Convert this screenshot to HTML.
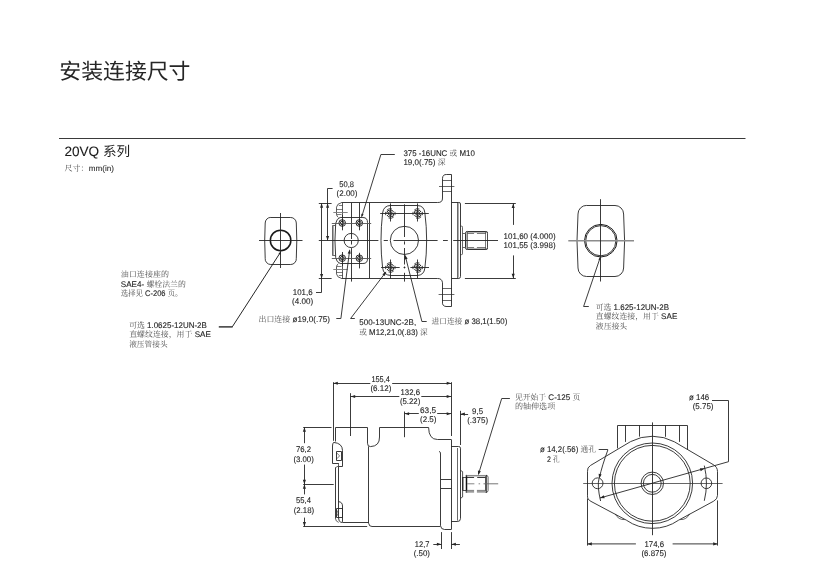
<!DOCTYPE html>
<html><head><meta charset="utf-8"><title>20VQ</title>
<style>
html,body{margin:0;padding:0;background:#fff;}
body{width:827px;height:573px;overflow:hidden;font-family:"Liberation Sans",sans-serif;}
svg{display:block;filter:grayscale(1);}
svg text{font-family:"Liberation Sans",sans-serif;text-rendering:geometricPrecision;stroke:#222;stroke-width:0.1px;}
svg text.cjs{font-family:"Liberation Sans","Noto Sans CJK SC",sans-serif;stroke:none;}
svg text.cjf{font-family:"Liberation Serif","Noto Serif CJK SC",serif;stroke:none;}
</style></head><body>
<svg width="827" height="573" viewBox="0 0 827 573" shape-rendering="geometricPrecision">
<rect width="827" height="573" fill="#fff"/>
<line x1="59" y1="138.5" x2="745.5" y2="138.5" stroke="#3a3a3a" stroke-width="1.0"/>
<path d="M270.80,217.50 L290.70,217.50 A5.6,5.6 0 0 1 296.30,223.00 Q297.30,240.40 296.30,258.40 A5.6,5.6 0 0 1 290.70,264.50 L270.80,264.50 A5.6,5.6 0 0 1 265.20,258.40 Q264.20,240.40 265.20,223.00 A5.6,5.6 0 0 1 270.80,217.40 Z" stroke="#262626" stroke-width="0.9" fill="none"/>
<circle cx="280.6" cy="240.4" r="10.25" stroke="#1a1a1a" stroke-width="1.5" fill="none"/>
<line x1="259" y1="240.5" x2="302.5" y2="240.5" stroke="#262626" stroke-width="0.9"/>
<line x1="280.5" y1="213" x2="280.5" y2="268" stroke="#262626" stroke-width="0.9"/>
<path d="M280.4,252.4 L232.3,326.8" stroke="#1a1a1a" stroke-width="0.95" fill="none"/>
<line x1="218.8" y1="326.9" x2="232.6" y2="326.9" stroke="#1a1a1a" stroke-width="1.3"/>
<path d="M281.20,251.20 L280.28,254.65 L278.43,253.46 Z" fill="#262626"/>
<path d="M586.60,205.50 L615.00,205.50 A8.6,8.6 0 0 1 623.60,214.00 Q625.60,240.70 623.60,268.00 A8.6,8.6 0 0 1 615.00,276.50 L586.60,276.50 A8.6,8.6 0 0 1 578.00,268.00 Q576.00,240.70 578.00,214.00 A8.6,8.6 0 0 1 586.60,205.40 Z" stroke="#262626" stroke-width="0.9" fill="none"/>
<circle cx="600.8" cy="240.7" r="16.3" stroke="#1a1a1a" stroke-width="1.0" fill="none"/>
<circle cx="600.8" cy="240.7" r="15.1" stroke="#222" stroke-width="0.9" fill="none"/>
<line x1="568.3" y1="240.7" x2="634" y2="240.7" stroke="#8c8c8c" stroke-width="1.4"/>
<line x1="600.5" y1="199.2" x2="600.5" y2="281.5" stroke="#262626" stroke-width="0.9"/>
<path d="M600.30,257.20 L583.60,306.50 L588.80,306.50" stroke="#262626" stroke-width="0.9" fill="none"/>
<path d="M600.60,256.40 L600.48,260.16 L598.40,259.45 Z" fill="#262626"/>
<path d="M341.30,202.50 L437.50,202.50 Q442.70,202.80 442.50,198.00 L442.50,178.30 Q442.70,174.30 446.70,174.50 L451.50,174.50 L451.50,306.50 L446.00,306.50 Q442.00,306.00 442.50,302.00 L442.50,282.80 Q442.00,278.30 437.50,278.50 L341.30,278.50" stroke="#262626" stroke-width="0.9" fill="none"/>
<line x1="442.7" y1="180.5" x2="451.7" y2="180.5" stroke="#262626" stroke-width="0.7"/>
<line x1="442.7" y1="191.5" x2="451.7" y2="191.5" stroke="#262626" stroke-width="0.7"/>
<line x1="442.0" y1="288.5" x2="451.7" y2="288.5" stroke="#262626" stroke-width="0.7"/>
<line x1="442.0" y1="300.5" x2="451.7" y2="300.5" stroke="#262626" stroke-width="0.7"/>
<line x1="439" y1="186.5" x2="454.4" y2="186.5" stroke="#262626" stroke-width="0.7"/>
<line x1="438.6" y1="294.5" x2="454.4" y2="294.5" stroke="#262626" stroke-width="0.7"/>
<path d="M451.70,202.50 L458.80,202.50 Q460.50,202.30 460.50,204.00 L460.50,276.60 Q460.50,278.20 458.80,278.50 L451.70,278.50" stroke="#262626" stroke-width="0.9" fill="none"/>
<line x1="457.5" y1="202.3" x2="457.5" y2="278.2" stroke="#262626" stroke-width="0.7"/>
<line x1="458.5" y1="203" x2="458.5" y2="277.6" stroke="#555" stroke-width="0.5"/>
<path d="M460.50,226.20 L461.60,226.20 Q462.80,226.20 462.50,227.60 L462.50,253.20 Q462.80,254.60 461.60,254.60 L460.50,254.60" stroke="#262626" stroke-width="0.7" fill="none"/>
<path d="M462.80,233.50 L465.40,233.50 M462.80,247.50 L465.40,247.50" stroke="#262626" stroke-width="0.7" fill="none"/>
<path d="M467.40,231.50 L485.90,231.50 Q487.90,231.40 487.50,233.40 L487.50,247.70 Q487.90,249.70 485.90,249.50 L467.40,249.50 Q465.40,249.70 465.50,247.70 L465.50,233.40 Q465.40,231.40 467.40,231.40 Z" stroke="#333" stroke-width="1.0" fill="none"/>
<path d="M467.60,232.50 L485.70,232.50 Q487.00,232.30 487.50,233.60 L487.50,247.50 Q487.00,248.80 485.70,248.50 L467.60,248.50 Q466.30,248.80 466.50,247.50 L466.50,233.60 Q466.30,232.30 467.60,232.30 Z" stroke="#666" stroke-width="0.5" fill="none"/>
<line x1="467.5" y1="231.6" x2="467.5" y2="249.5" stroke="#444" stroke-width="0.7"/>
<line x1="485.5" y1="231.6" x2="485.5" y2="249.5" stroke="#444" stroke-width="0.7"/>
<line x1="467.4" y1="233.5" x2="474.1" y2="233.5" stroke="#444" stroke-width="0.7"/>
<line x1="476.9" y1="233.5" x2="485.9" y2="233.5" stroke="#444" stroke-width="0.7"/>
<line x1="467.4" y1="247.5" x2="474.1" y2="247.5" stroke="#444" stroke-width="0.7"/>
<line x1="476.9" y1="247.5" x2="485.9" y2="247.5" stroke="#444" stroke-width="0.7"/>
<line x1="369.5" y1="202.8" x2="369.5" y2="278.3" stroke="#262626" stroke-width="0.9"/>
<line x1="351.5" y1="202.8" x2="351.5" y2="239.0" stroke="#262626" stroke-width="0.9"/>
<line x1="351.5" y1="240.9" x2="351.5" y2="244.5" stroke="#262626" stroke-width="0.9"/>
<line x1="351.5" y1="248.1" x2="351.5" y2="281.6" stroke="#262626" stroke-width="0.9"/>
<line x1="359.5" y1="202.8" x2="359.5" y2="230.3" stroke="#262626" stroke-width="0.9"/>
<line x1="359.5" y1="252.8" x2="359.5" y2="268.4" stroke="#262626" stroke-width="0.9"/>
<line x1="342.5" y1="215" x2="342.5" y2="230.3" stroke="#262626" stroke-width="0.9"/>
<line x1="342.5" y1="252.0" x2="342.5" y2="266" stroke="#262626" stroke-width="0.9"/>
<path d="M341.30,202.80 Q337.00,203.60 336.50,207.20 L336.50,214.40 Q336.80,216.40 338.40,217.40" stroke="#262626" stroke-width="0.75" fill="none"/>
<line x1="342.5" y1="202.8" x2="342.5" y2="217.4" stroke="#262626" stroke-width="0.75"/>
<line x1="338.8" y1="205.5" x2="342.5" y2="205.5" stroke="#262626" stroke-width="0.6"/>
<line x1="336.7" y1="209.5" x2="342.5" y2="209.5" stroke="#262626" stroke-width="0.6"/>
<line x1="336.7" y1="214.5" x2="341.5" y2="214.5" stroke="#262626" stroke-width="0.6"/>
<line x1="333.3" y1="212.5" x2="347.7" y2="212.5" stroke="#777" stroke-width="0.9"/>
<path d="M341.30,278.30 Q337.00,277.50 336.50,273.90 L336.50,266.70 Q336.80,264.70 338.40,263.70" stroke="#262626" stroke-width="0.75" fill="none"/>
<line x1="342.5" y1="278.3" x2="342.5" y2="263.7" stroke="#262626" stroke-width="0.75"/>
<line x1="338.8" y1="275.5" x2="342.5" y2="275.5" stroke="#262626" stroke-width="0.6"/>
<line x1="336.7" y1="272.5" x2="342.5" y2="272.5" stroke="#262626" stroke-width="0.6"/>
<line x1="336.7" y1="266.5" x2="341.5" y2="266.5" stroke="#262626" stroke-width="0.6"/>
<line x1="333.3" y1="269.5" x2="347.7" y2="269.5" stroke="#777" stroke-width="0.9"/>
<path d="M340.20,217.50 L362.90,217.50 Q367.70,217.60 367.50,222.60 L367.50,258.50 Q367.70,263.60 362.90,263.50 L340.20,263.50 Q336.60,262.40 335.70,257.60 Q334.20,240.40 335.70,223.40 Q336.60,218.60 340.20,217.40 Z" stroke="#262626" stroke-width="0.9" fill="none"/>
<path d="M335.30,225.50 L332.50,225.50 L332.50,255.50 L335.30,255.50" stroke="#262626" stroke-width="0.7" fill="none"/>
<line x1="333.5" y1="226" x2="333.5" y2="255" stroke="#555" stroke-width="0.5"/>
<circle cx="342.2" cy="223.0" r="3.3" stroke="#111" stroke-width="0.9" fill="none"/>
<circle cx="342.2" cy="223.0" r="1.8" stroke="#111" stroke-width="0.9" fill="none"/>
<circle cx="342.2" cy="258.2" r="3.3" stroke="#111" stroke-width="0.9" fill="none"/>
<circle cx="342.2" cy="258.2" r="1.8" stroke="#111" stroke-width="0.9" fill="none"/>
<circle cx="359.3" cy="223.0" r="3.3" stroke="#111" stroke-width="0.9" fill="none"/>
<circle cx="359.3" cy="223.0" r="1.8" stroke="#111" stroke-width="0.9" fill="none"/>
<circle cx="359.3" cy="258.2" r="3.3" stroke="#111" stroke-width="0.9" fill="none"/>
<circle cx="359.3" cy="258.2" r="1.8" stroke="#111" stroke-width="0.9" fill="none"/>
<line x1="331.8" y1="223.5" x2="371.2" y2="223.5" stroke="#555" stroke-width="0.9"/>
<line x1="331.8" y1="258.5" x2="371.2" y2="258.5" stroke="#555" stroke-width="0.9"/>
<circle cx="351.2" cy="240.5" r="7.1" stroke="#262626" stroke-width="0.9" fill="none"/>
<path d="M391.00,205.50 L417.20,205.50 Q424.20,205.60 424.90,213.00 Q428.40,240.40 424.90,267.80 Q424.20,275.20 417.20,275.50 L391.00,275.50 Q383.40,275.20 382.60,267.80 Q379.40,240.40 382.60,213.00 Q383.40,205.60 391.00,205.40 Z" stroke="#262626" stroke-width="0.9" fill="none"/>
<circle cx="390.3" cy="213.5" r="1.9" stroke="#111" stroke-width="0.95" fill="none"/>
<circle cx="390.3" cy="213.5" r="3.6" stroke="#111" stroke-width="0.9" fill="none" stroke-dasharray="9.5 1.8"/>
<path d="M386.84,210.04 A4.9,4.9 0 0 1 392.00,208.90 M393.76,216.96 A4.9,4.9 0 0 1 388.60,218.10 M394.90,211.80 A4.9,4.9 0 0 1 394.90,215.20 M385.70,215.20 A4.9,4.9 0 0 1 385.70,211.80" stroke="#222" stroke-width="0.75" fill="none"/>
<line x1="390.5" y1="203.4" x2="390.5" y2="221.5" stroke="#262626" stroke-width="0.9"/>
<circle cx="390.3" cy="267.5" r="1.9" stroke="#111" stroke-width="0.95" fill="none"/>
<circle cx="390.3" cy="267.5" r="3.6" stroke="#111" stroke-width="0.9" fill="none" stroke-dasharray="9.5 1.8"/>
<path d="M386.84,264.04 A4.9,4.9 0 0 1 392.00,262.90 M393.76,270.96 A4.9,4.9 0 0 1 388.60,272.10 M394.90,265.80 A4.9,4.9 0 0 1 394.90,269.20 M385.70,269.20 A4.9,4.9 0 0 1 385.70,265.80" stroke="#222" stroke-width="0.75" fill="none"/>
<line x1="390.5" y1="259.5" x2="390.5" y2="278.4" stroke="#262626" stroke-width="0.9"/>
<circle cx="417.7" cy="213.5" r="1.9" stroke="#111" stroke-width="0.95" fill="none"/>
<circle cx="417.7" cy="213.5" r="3.6" stroke="#111" stroke-width="0.9" fill="none" stroke-dasharray="9.5 1.8"/>
<path d="M414.24,210.04 A4.9,4.9 0 0 1 419.40,208.90 M421.16,216.96 A4.9,4.9 0 0 1 416.00,218.10 M422.30,211.80 A4.9,4.9 0 0 1 422.30,215.20 M413.10,215.20 A4.9,4.9 0 0 1 413.10,211.80" stroke="#222" stroke-width="0.75" fill="none"/>
<line x1="417.5" y1="203.4" x2="417.5" y2="221.5" stroke="#262626" stroke-width="0.9"/>
<circle cx="417.7" cy="267.5" r="1.9" stroke="#111" stroke-width="0.95" fill="none"/>
<circle cx="417.7" cy="267.5" r="3.6" stroke="#111" stroke-width="0.9" fill="none" stroke-dasharray="9.5 1.8"/>
<path d="M414.24,264.04 A4.9,4.9 0 0 1 419.40,262.90 M421.16,270.96 A4.9,4.9 0 0 1 416.00,272.10 M422.30,265.80 A4.9,4.9 0 0 1 422.30,269.20 M413.10,269.20 A4.9,4.9 0 0 1 413.10,265.80" stroke="#222" stroke-width="0.75" fill="none"/>
<line x1="417.5" y1="259.5" x2="417.5" y2="278.4" stroke="#262626" stroke-width="0.9"/>
<line x1="380.2" y1="213.5" x2="428.8" y2="213.5" stroke="#262626" stroke-width="0.9"/>
<line x1="381.1" y1="267.5" x2="399.7" y2="267.5" stroke="#262626" stroke-width="0.9"/>
<line x1="403.6" y1="267.5" x2="405.4" y2="267.5" stroke="#262626" stroke-width="0.9"/>
<line x1="410.4" y1="267.5" x2="429" y2="267.5" stroke="#262626" stroke-width="0.9"/>
<circle cx="404.4" cy="240.4" r="14.1" stroke="#262626" stroke-width="0.9" fill="none"/>
<line x1="404.5" y1="204.3" x2="404.5" y2="237" stroke="#262626" stroke-width="0.9"/>
<line x1="404.5" y1="241.4" x2="404.5" y2="244.5" stroke="#262626" stroke-width="0.9"/>
<line x1="404.5" y1="248" x2="404.5" y2="264.5" stroke="#262626" stroke-width="0.9"/>
<line x1="404.5" y1="266.5" x2="404.5" y2="268.4" stroke="#262626" stroke-width="0.9"/>
<line x1="404.5" y1="272.8" x2="404.5" y2="281.6" stroke="#262626" stroke-width="0.9"/>
<line x1="318.8" y1="240.5" x2="378.4" y2="240.5" stroke="#262626" stroke-width="0.9"/>
<line x1="383.7" y1="240.5" x2="387.9" y2="240.5" stroke="#262626" stroke-width="0.9"/>
<line x1="393.5" y1="240.5" x2="437.6" y2="240.5" stroke="#262626" stroke-width="0.9"/>
<line x1="443" y1="240.5" x2="447.8" y2="240.5" stroke="#262626" stroke-width="0.9"/>
<line x1="453.2" y1="240.5" x2="498" y2="240.5" stroke="#262626" stroke-width="0.9"/>
<line x1="318.8" y1="203.5" x2="331.6" y2="203.5" stroke="#262626" stroke-width="0.9"/>
<line x1="318.8" y1="278.5" x2="331.6" y2="278.5" stroke="#262626" stroke-width="0.9"/>
<path d="M321.50,203.30 L321.50,292.50 L316.00,292.50" stroke="#262626" stroke-width="0.9" fill="none"/>
<path d="M321.60,203.30 L323.15,207.80 L320.05,207.80 Z" fill="#262626"/>
<path d="M321.60,278.40 L320.05,273.90 L323.15,273.90 Z" fill="#262626"/>
<path d="M332.60,188.50 L327.50,188.50 L327.50,240.40" stroke="#262626" stroke-width="0.9" fill="none"/>
<path d="M327.60,203.30 L329.15,207.80 L326.05,207.80 Z" fill="#262626"/>
<path d="M327.60,240.40 L326.05,235.90 L329.15,235.90 Z" fill="#262626"/>
<line x1="464.9" y1="203.5" x2="515.8" y2="203.5" stroke="#262626" stroke-width="0.9"/>
<line x1="464.9" y1="278.5" x2="515.8" y2="278.5" stroke="#262626" stroke-width="0.9"/>
<line x1="513.5" y1="203.4" x2="513.5" y2="224.9" stroke="#262626" stroke-width="0.9"/>
<line x1="513.5" y1="255.4" x2="513.5" y2="278.3" stroke="#262626" stroke-width="0.9"/>
<path d="M513.20,203.40 L514.75,207.90 L511.65,207.90 Z" fill="#262626"/>
<path d="M513.20,278.30 L511.65,273.80 L514.75,273.80 Z" fill="#262626"/>
<path d="M394.80,154.50 L380.90,154.50 L361.80,216.40" stroke="#262626" stroke-width="0.9" fill="none"/>
<path d="M361.40,217.60 L361.41,213.63 L363.61,214.30 Z" fill="#262626"/>
<path d="M349.60,250.60 L340.90,318.50 L336.30,318.50" stroke="#262626" stroke-width="0.9" fill="none"/>
<path d="M349.80,249.20 L350.76,253.86 L347.69,253.47 Z" fill="#262626"/>
<line x1="336.5" y1="318.5" x2="341" y2="318.5" stroke="#262626" stroke-width="0.0"/>
<path d="M385.50,272.60 L350.60,318.50 L354.80,318.50" stroke="#262626" stroke-width="0.9" fill="none"/>
<path d="M386.30,271.50 L384.81,276.02 L382.35,274.15 Z" fill="#262626"/>
<path d="M405.30,256.00 L421.90,321.50 L426.70,321.50" stroke="#262626" stroke-width="0.9" fill="none"/>
<path d="M405.00,254.80 L407.61,258.78 L404.61,259.54 Z" fill="#262626"/>
<path d="M335.50,441.50 L335.50,427.50 L367.50,427.50 L367.50,443.20 Q367.40,446.60 370.50,446.60 Q379.70,446.20 379.50,437.00 L379.50,427.50 L428.60,427.50 Q428.80,439.50 437.50,439.50 L451.20,439.50" stroke="#262626" stroke-width="0.9" fill="none"/>
<line x1="368.5" y1="446.4" x2="368.5" y2="523.5" stroke="#262626" stroke-width="0.9"/>
<path d="M368.80,523.40 Q368.80,526.50 372.00,526.50 L440.20,526.50" stroke="#262626" stroke-width="0.9" fill="none"/>
<path d="M338.70,518.20 Q338.70,522.50 342.50,522.50 L368.60,522.50" stroke="#262626" stroke-width="0.9" fill="none"/>
<line x1="335.5" y1="467.5" x2="335.5" y2="518.5" stroke="#262626" stroke-width="0.9"/>
<line x1="338.5" y1="466.2" x2="338.5" y2="518.5" stroke="#262626" stroke-width="0.9"/>
<path d="M335.40,518.30 Q335.60,521.60 338.70,522.40" stroke="#262626" stroke-width="0.7" fill="none"/>
<path d="M335.40,467.60 L338.50,466.00 L338.50,463.30" stroke="#262626" stroke-width="0.7" fill="none"/>
<path d="M333.60,442.40 Q342.40,443.20 342.50,450.50 L342.50,466.50 L338.60,466.50" stroke="#262626" stroke-width="0.9" fill="none"/>
<path d="M333.60,442.40 Q332.50,443.60 332.50,446.00 L332.50,463.50 L338.70,463.50" stroke="#262626" stroke-width="0.9" fill="none"/>
<path d="M336.50,451.50 L341.50,451.50 L341.50,460.50 L336.50,460.50 Z" stroke="#262626" stroke-width="0.9" fill="none"/>
<path d="M336.80,453.00 L339.60,455.90 L336.80,458.80" stroke="#262626" stroke-width="0.6" fill="none"/>
<path d="M338.40,501.60 Q342.50,502.00 342.50,506.00 L342.50,521.90" stroke="#262626" stroke-width="0.9" fill="none"/>
<path d="M336.50,508.50 L342.50,508.50 L342.50,517.50 L336.50,517.50 Z" stroke="#262626" stroke-width="0.9" fill="none"/>
<path d="M336.80,510.20 Q339.60,513.20 336.80,516.20" stroke="#262626" stroke-width="0.6" fill="none"/>
<line x1="451.5" y1="439.5" x2="451.5" y2="529.5" stroke="#262626" stroke-width="0.9"/>
<path d="M451.30,446.50 L458.50,446.50 Q460.30,446.30 460.50,448.20 L460.50,518.60 Q460.30,521.90 457.10,521.50 L451.30,521.50" stroke="#262626" stroke-width="0.9" fill="none"/>
<line x1="457.5" y1="448" x2="457.5" y2="520.6" stroke="#262626" stroke-width="0.7"/>
<path d="M439.00,451.40 Q440.90,451.80 440.50,454.00 L440.50,525.80 Q441.00,529.50 444.50,529.50 L451.30,529.50" stroke="#262626" stroke-width="0.9" fill="none"/>
<line x1="440.9" y1="479.5" x2="451.3" y2="479.5" stroke="#262626" stroke-width="0.9"/>
<line x1="440.9" y1="488.5" x2="451.3" y2="488.5" stroke="#262626" stroke-width="0.9"/>
<path d="M460.5,470.4 L462.6,471.6 V497.0 L460.5,498.3" stroke="#262626" stroke-width="0.8" fill="none"/>
<line x1="462.8" y1="477.0" x2="462.8" y2="490.6" stroke="#222" stroke-width="1.2"/>
<line x1="462.8" y1="477.5" x2="466.4" y2="477.5" stroke="#262626" stroke-width="0.8"/>
<line x1="462.8" y1="490.5" x2="466.4" y2="490.5" stroke="#262626" stroke-width="0.8"/>
<line x1="466.5" y1="474.9" x2="466.5" y2="492.7" stroke="#111" stroke-width="1.5"/>
<line x1="486.0" y1="474.9" x2="486.0" y2="492.7" stroke="#111" stroke-width="1.4"/>
<line x1="466.5" y1="475.7" x2="486.0" y2="475.7" stroke="#8a8a8a" stroke-width="1.5"/>
<line x1="466.5" y1="477.5" x2="474.1" y2="477.5" stroke="#222" stroke-width="0.9"/>
<line x1="477.2" y1="477.5" x2="485.5" y2="477.5" stroke="#222" stroke-width="0.9"/>
<line x1="466.5" y1="491.7" x2="474.1" y2="491.7" stroke="#9a9a9a" stroke-width="2.0"/>
<line x1="476.9" y1="491.7" x2="486.0" y2="491.7" stroke="#9a9a9a" stroke-width="2.0"/>
<line x1="466.5" y1="490.4" x2="474.1" y2="490.4" stroke="#555" stroke-width="0.7"/>
<line x1="476.9" y1="490.4" x2="486.0" y2="490.4" stroke="#555" stroke-width="0.7"/>
<path d="M486,475.2 Q488.1,475.4 488.1,477.2 V490.4 Q488.1,492.2 486,492.5" stroke="#262626" stroke-width="0.7" fill="none"/>
<line x1="467.1" y1="483.8" x2="474.4" y2="483.8" stroke="#777" stroke-width="0.9"/>
<line x1="478.6" y1="483.8" x2="480.1" y2="483.8" stroke="#777" stroke-width="0.9"/>
<line x1="483.5" y1="483.8" x2="498.2" y2="483.8" stroke="#666" stroke-width="0.9"/>
<line x1="333.5" y1="382.2" x2="333.5" y2="440.8" stroke="#262626" stroke-width="0.9"/>
<line x1="451.5" y1="382.2" x2="451.5" y2="436" stroke="#262626" stroke-width="0.9"/>
<line x1="333.3" y1="383.5" x2="370.3" y2="383.5" stroke="#262626" stroke-width="0.9"/>
<path d="M333.30,383.20 L337.80,381.65 L337.80,384.75 Z" fill="#262626"/>
<line x1="392.2" y1="383.5" x2="451.2" y2="383.5" stroke="#262626" stroke-width="0.9"/>
<path d="M451.20,383.20 L446.70,384.75 L446.70,381.65 Z" fill="#262626"/>
<line x1="350.5" y1="393.2" x2="350.5" y2="436" stroke="#262626" stroke-width="0.9"/>
<line x1="350.7" y1="396.5" x2="399.3" y2="396.5" stroke="#262626" stroke-width="0.9"/>
<path d="M350.70,396.50 L355.20,394.95 L355.20,398.05 Z" fill="#262626"/>
<line x1="421.3" y1="396.5" x2="451.2" y2="396.5" stroke="#262626" stroke-width="0.9"/>
<path d="M451.20,396.50 L446.70,398.05 L446.70,394.95 Z" fill="#262626"/>
<line x1="404.5" y1="411.5" x2="404.5" y2="437.2" stroke="#262626" stroke-width="0.9"/>
<line x1="404.6" y1="413.5" x2="418.8" y2="413.5" stroke="#262626" stroke-width="0.9"/>
<path d="M404.60,413.70 L409.10,412.15 L409.10,415.25 Z" fill="#262626"/>
<line x1="437.2" y1="413.5" x2="451.2" y2="413.5" stroke="#262626" stroke-width="0.9"/>
<path d="M451.20,413.70 L446.70,415.25 L446.70,412.15 Z" fill="#262626"/>
<line x1="460.5" y1="410.8" x2="460.5" y2="445" stroke="#262626" stroke-width="0.9"/>
<line x1="460.4" y1="414.5" x2="468.1" y2="414.5" stroke="#262626" stroke-width="0.9"/>
<path d="M460.40,414.10 L464.90,412.55 L464.90,415.65 Z" fill="#262626"/>
<line x1="303.2" y1="427.5" x2="331.5" y2="427.5" stroke="#262626" stroke-width="0.9"/>
<line x1="303.2" y1="484.5" x2="333.7" y2="484.5" stroke="#262626" stroke-width="0.9"/>
<line x1="303.2" y1="526.5" x2="367.2" y2="526.5" stroke="#262626" stroke-width="0.9"/>
<line x1="304.5" y1="427.2" x2="304.5" y2="443.2" stroke="#262626" stroke-width="0.9"/>
<path d="M304.40,427.20 L305.95,431.70 L302.85,431.70 Z" fill="#262626"/>
<line x1="304.5" y1="464.6" x2="304.5" y2="484.3" stroke="#262626" stroke-width="0.9"/>
<path d="M304.40,484.30 L302.85,479.80 L305.95,479.80 Z" fill="#262626"/>
<line x1="304.5" y1="484.3" x2="304.5" y2="494.4" stroke="#262626" stroke-width="0.9"/>
<path d="M304.40,484.30 L305.95,488.80 L302.85,488.80 Z" fill="#262626"/>
<line x1="304.5" y1="517.6" x2="304.5" y2="526.5" stroke="#262626" stroke-width="0.9"/>
<path d="M304.40,526.50 L302.85,522.00 L305.95,522.00 Z" fill="#262626"/>
<line x1="441.5" y1="532.1" x2="441.5" y2="549" stroke="#262626" stroke-width="0.9"/>
<line x1="451.5" y1="532.1" x2="451.5" y2="549" stroke="#262626" stroke-width="0.9"/>
<line x1="433.3" y1="544.5" x2="441.4" y2="544.5" stroke="#262626" stroke-width="0.9"/>
<path d="M441.40,544.20 L436.90,545.75 L436.90,542.65 Z" fill="#262626"/>
<line x1="451.4" y1="544.5" x2="459.9" y2="544.5" stroke="#262626" stroke-width="0.9"/>
<path d="M451.40,544.20 L455.90,542.65 L455.90,545.75 Z" fill="#262626"/>
<path d="M509.90,398.50 L501.70,398.50 L478.60,473.80" stroke="#262626" stroke-width="0.9" fill="none"/>
<path d="M478.10,475.20 L477.94,470.44 L480.90,471.35 Z" fill="#262626"/>
<line x1="583.2" y1="483.5" x2="722.6" y2="483.5" stroke="#555" stroke-width="0.9"/>
<line x1="652.5" y1="422.4" x2="652.5" y2="535.2" stroke="#262626" stroke-width="0.9"/>
<path d="M617.50,448.40 L617.50,425.50 L687.50,425.50 L687.50,449.60" stroke="#262626" stroke-width="0.9" fill="none"/>
<line x1="625.5" y1="425.4" x2="625.5" y2="441.9" stroke="#262626" stroke-width="0.9"/>
<line x1="639.5" y1="425.4" x2="639.5" y2="436.6" stroke="#262626" stroke-width="0.9"/>
<line x1="665.5" y1="425.4" x2="665.5" y2="436.8" stroke="#262626" stroke-width="0.9"/>
<line x1="679.5" y1="425.4" x2="679.5" y2="441.9" stroke="#262626" stroke-width="0.9"/>
<path d="M630.60,441.60 A46.8,46.8 0 0 1 674.40,441.80 L713.20,464.60 Q717.50,467.00 717.50,471.50 L717.50,495.40 Q717.50,499.20 713.60,501.20 L678.60,520.20 A46,46 0 0 1 626.40,520.20 L591.00,501.40 Q587.00,499.40 587.50,495.20 L587.50,471.40 Q587.00,467.40 590.60,465.40 Z" stroke="#262626" stroke-width="0.9" fill="none"/>
<path d="M615.20,513.90 Q618.40,520.00 624.60,519.60" stroke="#262626" stroke-width="0.7" fill="none"/>
<path d="M689.70,513.90 Q686.40,520.00 680.20,519.60" stroke="#262626" stroke-width="0.7" fill="none"/>
<circle cx="652.3" cy="483.3" r="40.3" stroke="#262626" stroke-width="0.9" fill="none"/>
<circle cx="652.3" cy="483.3" r="37.9" stroke="#262626" stroke-width="0.9" fill="none"/>
<circle cx="652.3" cy="483.3" r="11.2" stroke="#262626" stroke-width="0.9" fill="none"/>
<circle cx="652.3" cy="483.3" r="8.9" stroke="#262626" stroke-width="0.9" fill="none"/>
<circle cx="597.6" cy="483.3" r="5.4" stroke="#262626" stroke-width="0.9" fill="none"/>
<circle cx="706.4" cy="483.3" r="5.3" stroke="#262626" stroke-width="0.9" fill="none"/>
<path d="M607.90,449.50 L598.70,449.50" stroke="#262626" stroke-width="0.9" fill="none"/>
<path d="M607.90,449.80 Q602.00,466.00 599.40,477.60" stroke="#262626" stroke-width="0.9" fill="none"/>
<path d="M599.10,478.60 L598.64,473.86 L601.66,474.59 Z" fill="#262626"/>
<path d="M599.00,478.60 Q597.00,486.00 600.60,501.00" stroke="#262626" stroke-width="0.9" fill="none"/>
<path d="M704.30,465.60 Q708.60,483.30 704.30,500.80" stroke="#262626" stroke-width="0.9" fill="none"/>
<path d="M712.00,400.50 L728.50,400.50 L728.50,461.70 L599.90,498.00" stroke="#262626" stroke-width="0.9" fill="none"/>
<path d="M599.90,498.00 L603.81,495.29 L604.65,498.27 Z" fill="#262626"/>
<path d="M704.60,468.50 L700.69,471.21 L699.85,468.23 Z" fill="#262626"/>
<line x1="587.5" y1="498.5" x2="587.5" y2="545.6" stroke="#262626" stroke-width="0.9"/>
<line x1="717.5" y1="500.4" x2="717.5" y2="545.6" stroke="#262626" stroke-width="0.9"/>
<line x1="587.1" y1="543.9" x2="635.9" y2="543.9" stroke="#3a3a3a" stroke-width="1.0"/>
<path d="M587.30,543.90 L591.80,542.35 L591.80,545.45 Z" fill="#262626"/>
<line x1="672.6" y1="543.9" x2="717.5" y2="543.9" stroke="#3a3a3a" stroke-width="1.0"/>
<path d="M717.70,543.90 L713.20,545.45 L713.20,542.35 Z" fill="#262626"/>
<text class="cjs" x="59.30" y="78.95" font-size="21.87" fill="#262626" textLength="131.2" lengthAdjust="spacingAndGlyphs">安装连接尺寸</text>
<text x="64.40" y="156.45" font-size="13.6" fill="#1a1a1a" textLength="38.56" lengthAdjust="spacingAndGlyphs" xml:space="preserve">20VQ </text>
<text class="cjs" x="102.90" y="156.35" font-size="13.6" fill="#1a1a1a" textLength="27.2" lengthAdjust="spacingAndGlyphs">系列</text>
<text class="cjf" x="64.40" y="171.35" font-size="8" fill="#444" textLength="24" lengthAdjust="spacingAndGlyphs">尺寸：</text>
<text x="88.80" y="171.35" font-size="8.0" fill="#333" textLength="25.20" lengthAdjust="spacingAndGlyphs" xml:space="preserve">mm(in)</text>
<text class="cjf" x="120.80" y="277.25" font-size="8" fill="#505050" textLength="48.2" lengthAdjust="spacingAndGlyphs">油口连接座的</text>
<text x="120.80" y="286.85" font-size="8.2" fill="#222" textLength="25.63" lengthAdjust="spacingAndGlyphs" xml:space="preserve">SAE4- </text>
<text class="cjf" x="146.43" y="286.85" font-size="8" fill="#505050" textLength="39.45" lengthAdjust="spacingAndGlyphs">螺栓法兰的</text>
<text class="cjf" x="120.80" y="296.45" font-size="8" fill="#505050" textLength="22.1" lengthAdjust="spacingAndGlyphs">选择见</text>
<text x="142.90" y="296.45" font-size="8.2" fill="#222" textLength="24.76" lengthAdjust="spacingAndGlyphs" xml:space="preserve"> C-206 </text>
<text class="cjf" x="167.67" y="296.45" font-size="8" fill="#505050" textLength="14.74" lengthAdjust="spacingAndGlyphs">页。</text>
<text class="cjf" x="129.20" y="327.55" font-size="8" fill="#505050" textLength="15.58" lengthAdjust="spacingAndGlyphs">可选</text>
<text x="144.78" y="327.55" font-size="8.2" fill="#222" textLength="62.12" lengthAdjust="spacingAndGlyphs" xml:space="preserve"> 1.0625-12UN-2B</text>
<text class="cjf" x="129.20" y="337.05" font-size="8" fill="#505050" textLength="63.24" lengthAdjust="spacingAndGlyphs">直螺纹连接，用于</text>
<text x="192.44" y="337.05" font-size="8.2" fill="#222" textLength="18.46" lengthAdjust="spacingAndGlyphs" xml:space="preserve"> SAE</text>
<text class="cjf" x="129.20" y="346.55" font-size="8" fill="#505050" textLength="38.4" lengthAdjust="spacingAndGlyphs">液压管接头</text>
<text x="403.40" y="155.55" font-size="8.2" fill="#222" textLength="46.12" lengthAdjust="spacingAndGlyphs" xml:space="preserve">375 -16UNC </text>
<text class="cjf" x="449.52" y="155.55" font-size="8" fill="#505050" textLength="7.71" lengthAdjust="spacingAndGlyphs">或</text>
<text x="457.23" y="155.55" font-size="8.2" fill="#222" textLength="17.57" lengthAdjust="spacingAndGlyphs" xml:space="preserve"> M10</text>
<text x="403.40" y="164.55" font-size="8.2" fill="#222" textLength="34.29" lengthAdjust="spacingAndGlyphs" xml:space="preserve">19,0(.75) </text>
<text class="cjf" x="437.69" y="164.55" font-size="8" fill="#505050" textLength="7.81" lengthAdjust="spacingAndGlyphs">深</text>
<text x="339.30" y="187.25" font-size="8.2" fill="#222" textLength="14.70" lengthAdjust="spacingAndGlyphs" xml:space="preserve">50,8</text>
<text x="336.60" y="196.25" font-size="8.2" fill="#222" textLength="20.80" lengthAdjust="spacingAndGlyphs" xml:space="preserve">(2.00)</text>
<text x="292.80" y="295.35" font-size="8.2" fill="#222" textLength="19.80" lengthAdjust="spacingAndGlyphs" xml:space="preserve">101,6</text>
<text x="292.10" y="304.25" font-size="8.2" fill="#222" textLength="21.00" lengthAdjust="spacingAndGlyphs" xml:space="preserve">(4.00)</text>
<text class="cjf" x="258.50" y="322.25" font-size="8" fill="#505050" textLength="31.72" lengthAdjust="spacingAndGlyphs">出口连接</text>
<text x="290.23" y="322.25" font-size="8.2" fill="#222" textLength="39.77" lengthAdjust="spacingAndGlyphs" xml:space="preserve"> ø19,0(.75)</text>
<text x="359.30" y="325.15" font-size="8.2" fill="#222" textLength="56.80" lengthAdjust="spacingAndGlyphs" xml:space="preserve">500-13UNC-2B,</text>
<text class="cjf" x="359.30" y="335.05" font-size="8" fill="#505050" textLength="7.64" lengthAdjust="spacingAndGlyphs">或</text>
<text x="366.94" y="335.05" font-size="8.2" fill="#222" textLength="53.12" lengthAdjust="spacingAndGlyphs" xml:space="preserve"> M12,21,0(.83) </text>
<text class="cjf" x="420.06" y="335.05" font-size="8" fill="#505050" textLength="7.64" lengthAdjust="spacingAndGlyphs">深</text>
<text class="cjf" x="431.60" y="324.15" font-size="8" fill="#505050" textLength="30.68" lengthAdjust="spacingAndGlyphs">进口连接</text>
<text x="462.28" y="324.15" font-size="8.2" fill="#222" textLength="45.02" lengthAdjust="spacingAndGlyphs" xml:space="preserve"> ø 38,1(1.50)</text>
<text x="503.60" y="239.25" font-size="8.2" fill="#222" textLength="52.00" lengthAdjust="spacingAndGlyphs" xml:space="preserve">101,60 (4.000)</text>
<text x="503.60" y="248.35" font-size="8.2" fill="#222" textLength="52.00" lengthAdjust="spacingAndGlyphs" xml:space="preserve">101,55 (3.998)</text>
<text class="cjf" x="595.80" y="309.65" font-size="8" fill="#505050" textLength="15.56" lengthAdjust="spacingAndGlyphs">可选</text>
<text x="611.36" y="309.65" font-size="8.2" fill="#222" textLength="57.64" lengthAdjust="spacingAndGlyphs" xml:space="preserve"> 1.625-12UN-2B</text>
<text class="cjf" x="595.80" y="319.25" font-size="8" fill="#505050" textLength="63.08" lengthAdjust="spacingAndGlyphs">直螺纹连接，用于</text>
<text x="658.88" y="319.25" font-size="8.2" fill="#222" textLength="18.42" lengthAdjust="spacingAndGlyphs" xml:space="preserve"> SAE</text>
<text class="cjf" x="595.80" y="329.05" font-size="8" fill="#505050" textLength="31.4" lengthAdjust="spacingAndGlyphs">液压接头</text>
<text x="371.40" y="381.85" font-size="8.2" fill="#222" textLength="18.50" lengthAdjust="spacingAndGlyphs" xml:space="preserve">155,4</text>
<text x="370.40" y="390.75" font-size="8.2" fill="#222" textLength="21.00" lengthAdjust="spacingAndGlyphs" xml:space="preserve">(6.12)</text>
<text x="400.50" y="394.85" font-size="8.2" fill="#222" textLength="19.50" lengthAdjust="spacingAndGlyphs" xml:space="preserve">132,6</text>
<text x="399.90" y="403.85" font-size="8.2" fill="#222" textLength="20.40" lengthAdjust="spacingAndGlyphs" xml:space="preserve">(5.22)</text>
<text x="420.00" y="412.55" font-size="8.2" fill="#222" textLength="16.00" lengthAdjust="spacingAndGlyphs" xml:space="preserve">63,5</text>
<text x="420.00" y="421.65" font-size="8.2" fill="#222" textLength="16.50" lengthAdjust="spacingAndGlyphs" xml:space="preserve">(2.5)</text>
<text x="472.10" y="414.05" font-size="8.2" fill="#222" textLength="10.90" lengthAdjust="spacingAndGlyphs" xml:space="preserve">9,5</text>
<text x="467.20" y="423.05" font-size="8.2" fill="#222" textLength="20.90" lengthAdjust="spacingAndGlyphs" xml:space="preserve">(.375)</text>
<text x="295.90" y="452.25" font-size="8.2" fill="#222" textLength="15.10" lengthAdjust="spacingAndGlyphs" xml:space="preserve">76,2</text>
<text x="293.40" y="461.95" font-size="8.2" fill="#222" textLength="20.40" lengthAdjust="spacingAndGlyphs" xml:space="preserve">(3.00)</text>
<text x="296.10" y="503.45" font-size="8.2" fill="#222" textLength="14.90" lengthAdjust="spacingAndGlyphs" xml:space="preserve">55,4</text>
<text x="293.70" y="512.85" font-size="8.2" fill="#222" textLength="20.50" lengthAdjust="spacingAndGlyphs" xml:space="preserve">(2.18)</text>
<text x="414.80" y="546.65" font-size="8.2" fill="#222" textLength="14.60" lengthAdjust="spacingAndGlyphs" xml:space="preserve">12,7</text>
<text x="413.70" y="556.15" font-size="8.2" fill="#222" textLength="16.30" lengthAdjust="spacingAndGlyphs" xml:space="preserve">(.50)</text>
<text class="cjf" x="514.90" y="399.65" font-size="8" fill="#505050" textLength="31.24" lengthAdjust="spacingAndGlyphs">见开始于</text>
<text x="546.14" y="399.65" font-size="8.2" fill="#222" textLength="26.25" lengthAdjust="spacingAndGlyphs" xml:space="preserve"> C-125 </text>
<text class="cjf" x="572.39" y="399.65" font-size="8" fill="#505050" textLength="7.81" lengthAdjust="spacingAndGlyphs">页</text>
<text class="cjf" x="514.90" y="409.05" font-size="8" fill="#505050" textLength="40.3" lengthAdjust="spacingAndGlyphs">的轴伸选项</text>
<text x="539.90" y="452.25" font-size="8.2" fill="#222" textLength="40.65" lengthAdjust="spacingAndGlyphs" xml:space="preserve">ø 14,2(.56) </text>
<text class="cjf" x="580.55" y="452.25" font-size="8" fill="#505050" textLength="15.35" lengthAdjust="spacingAndGlyphs">通孔</text>
<text x="546.90" y="461.85" font-size="8.2" fill="#222" textLength="5.85" lengthAdjust="spacingAndGlyphs" xml:space="preserve">2 </text>
<text class="cjf" x="552.75" y="461.85" font-size="8" fill="#505050" textLength="6.85" lengthAdjust="spacingAndGlyphs">孔</text>
<text x="689.10" y="399.85" font-size="8.2" fill="#222" textLength="20.10" lengthAdjust="spacingAndGlyphs" xml:space="preserve">ø 146</text>
<text x="692.70" y="409.15" font-size="8.2" fill="#222" textLength="20.80" lengthAdjust="spacingAndGlyphs" xml:space="preserve">(5.75)</text>
<text x="644.50" y="547.25" font-size="8.2" fill="#222" textLength="19.50" lengthAdjust="spacingAndGlyphs" xml:space="preserve">174,6</text>
<text x="641.40" y="556.35" font-size="8.2" fill="#222" textLength="25.10" lengthAdjust="spacingAndGlyphs" xml:space="preserve">(6.875)</text>
</svg>
</body></html>
